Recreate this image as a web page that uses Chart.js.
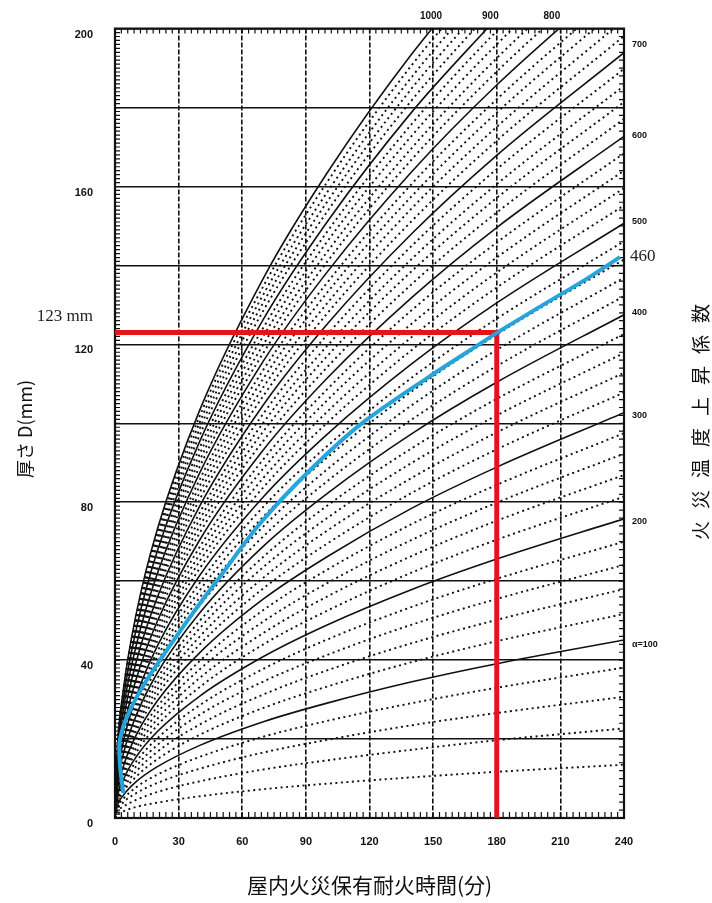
<!DOCTYPE html>
<html lang="ja">
<head>
<meta charset="utf-8">
<title>屋内火災保有耐火時間</title>
<script src="https://cdn.jsdelivr.net/npm/chart.js@4.4.1/dist/chart.umd.min.js"></script>
<style>
  html, body { margin: 0; padding: 0; background: #fff; }
  #wrap { width: 712px; height: 903px; }
</style>
</head>
<body>
<div id="wrap"><canvas id="chart" width="712" height="903"></canvas></div>
<script>
// 屋内火災保有耐火時間 - thickness D vs. time, one curve per fire temperature rise factor

// time samples (min) at which each curve was read
const timeMin = [0, 1, 4, 10, 20, 40, 70, 100, 140, 180, 240];

// fire temperature rise factor of each curve (solid every 100, dotted between)
const alphaValues = [20, 40, 60, 80, 100, 120, 140, 160, 180, 200,
    220, 240, 260, 280, 300, 320, 340, 360, 380, 400,
    420, 440, 460, 480, 500, 520, 540, 560, 580, 600,
    620, 640, 660, 680, 700, 720, 740, 760, 780, 800,
    820, 840, 860, 880, 900, 920, 940, 960, 980, 1000];

// thickness D (mm) read at each time sample, one row per curve
const depthByAlpha = [
    [0, 0.9, 1.7, 2.8, 3.9, 5.5, 7.3, 8.7, 10.3, 11.7, 13.5],
    [0, 1.5, 2.9, 4.6, 6.6, 9.3, 12.3, 14.6, 17.3, 19.7, 22.7],
    [0, 2.0, 4.0, 6.3, 8.9, 12.5, 16.6, 19.8, 23.5, 26.6, 30.7],
    [0, 2.5, 4.9, 7.8, 11.0, 15.5, 20.6, 24.6, 29.1, 33.0, 38.1],
    [0, 2.9, 5.8, 9.2, 13.0, 18.4, 24.4, 29.1, 34.5, 39.1, 45.1],
    [0, 3.3, 6.7, 10.5, 14.9, 21.1, 27.9, 33.3, 39.5, 44.8, 51.7],
    [0, 3.7, 7.5, 11.8, 16.8, 23.7, 31.3, 37.4, 44.3, 50.2, 58.0],
    [0, 4.1, 8.3, 13.1, 18.5, 26.2, 34.6, 41.3, 49.0, 55.5, 64.1],
    [0, 4.5, 9.0, 14.3, 20.2, 28.6, 37.8, 45.2, 53.5, 60.6, 70.0],
    [0, 4.9, 9.8, 15.5, 21.9, 30.9, 40.9, 48.9, 57.9, 65.6, 75.8],
    [0, 5.3, 10.5, 16.6, 23.5, 33.2, 44.0, 52.5, 62.2, 70.5, 81.4],
    [0, 5.6, 11.2, 17.7, 25.1, 35.5, 46.9, 56.1, 66.4, 75.3, 86.9],
    [0, 6.0, 11.9, 18.8, 26.7, 37.7, 49.8, 59.5, 70.5, 79.9, 92.3],
    [0, 6.3, 12.6, 19.9, 28.2, 39.8, 52.7, 62.9, 74.5, 84.4, 97.5],
    [0, 6.6, 13.2, 21.0, 29.7, 41.9, 55.5, 66.2, 78.5, 88.9, 102.7],
    [0, 7.0, 13.9, 22.0, 31.2, 44.0, 58.2, 69.5, 82.4, 93.4, 107.8],
    [0, 7.3, 14.6, 23.0, 32.6, 46.0, 60.9, 72.8, 86.2, 97.7, 112.8],
    [0, 7.6, 15.2, 24.0, 34.0, 48.1, 63.6, 76.0, 90.0, 102.0, 117.8],
    [0, 7.9, 15.8, 25.0, 35.4, 50.0, 66.2, 79.1, 93.7, 106.2, 122.6],
    [0, 8.2, 16.4, 26.0, 36.8, 52.0, 68.9, 82.2, 97.4, 110.4, 127.5],
    [0, 8.5, 17.1, 27.0, 38.2, 53.9, 71.4, 85.3, 101.0, 114.5, 132.2],
    [0, 8.8, 17.7, 27.9, 39.6, 55.9, 73.9, 88.3, 104.6, 118.6, 136.9],
    [0, 9.1, 18.3, 28.9, 40.9, 57.7, 76.4, 91.3, 108.1, 122.5, 141.5],
    [0, 9.4, 18.8, 29.8, 42.2, 59.6, 78.9, 94.2, 111.6, 126.5, 146.1],
    [0, 9.7, 19.4, 30.7, 43.6, 61.5, 81.4, 97.2, 115.1, 130.5, 150.7],
    [0, 10.0, 20.0, 31.7, 44.9, 63.3, 83.8, 100.1, 118.6, 134.4, 155.2],
    [0, 10.3, 20.6, 32.6, 46.1, 65.1, 86.2, 102.9, 121.9, 138.2, 159.6],
    [0, 10.6, 21.2, 33.5, 47.4, 66.9, 88.6, 105.8, 125.3, 142.0, 164.0],
    [0, 10.9, 21.7, 34.4, 48.7, 68.7, 90.9, 108.6, 128.7, 145.8, 168.4],
    [0, 11.1, 22.3, 35.2, 49.9, 70.5, 93.3, 111.4, 131.9, 149.6, 172.7],
    [0, 11.4, 22.8, 36.1, 51.2, 72.3, 95.6, 114.2, 135.3, 153.4, 177.1],
    [0, 11.7, 23.4, 37.0, 52.4, 74.0, 98.0, 117.0, 138.6, 157.1, 181.4],
    [0, 12.0, 23.9, 37.8, 53.6, 75.7, 100.2, 119.6, 141.7, 160.6, 185.5],
    [0, 12.2, 24.5, 38.7, 54.9, 77.4, 102.5, 122.4, 145.0, 164.4, 189.8],
    [0, 12.5, 25.0, 39.6, 56.0, 79.1, 104.7, 125.1, 148.1, 167.9, 193.9],
    [0, 12.8, 25.6, 40.4, 57.3, 80.8, 107.0, 127.8, 151.3, 171.6, 198.1],
    [0, 13.0, 26.1, 41.2, 58.4, 82.5, 109.2, 130.4, 154.5, 175.1, 202.2],
    [0, 13.3, 26.6, 42.1, 59.6, 84.2, 111.4, 133.1, 157.6, 178.7, 206.3],
    [0, 13.6, 27.1, 42.9, 60.8, 85.8, 113.6, 135.6, 160.7, 182.1, 210.3],
    [0, 13.8, 27.7, 43.7, 62.0, 87.5, 115.8, 138.3, 163.8, 185.7, 214.4],
    [0, 14.1, 28.2, 44.6, 63.1, 89.1, 117.9, 140.9, 166.9, 189.1, 218.4],
    [0, 14.3, 28.7, 45.3, 64.2, 90.7, 120.0, 143.4, 169.8, 192.5, 222.3],
    [0, 14.6, 29.2, 46.2, 65.4, 92.3, 122.2, 146.0, 172.9, 196.0, 226.3],
    [0, 14.8, 29.7, 47.0, 66.5, 93.9, 124.3, 148.5, 175.9, 199.4, 230.2],
    [0, 15.1, 30.2, 47.8, 67.7, 95.5, 126.4, 151.0, 178.9, 202.7, null],
    [0, 15.4, 30.7, 48.6, 68.8, 97.1, 128.6, 153.6, 181.9, 206.2, null],
    [0, 15.6, 31.2, 49.4, 69.9, 98.7, 130.7, 156.1, 184.9, 209.6, null],
    [0, 15.9, 31.7, 50.1, 71.0, 100.3, 132.7, 158.5, 187.8, 212.9, null],
    [0, 16.1, 32.2, 50.9, 72.2, 101.9, 134.8, 161.1, 190.8, 216.2, null],
    [0, 16.3, 32.7, 51.7, 73.2, 103.4, 136.8, 163.4, 193.6, 219.4, null]
];

// hand-drawn blue curve (alpha = 460), depth rises steadily along it
const blueTime = [3.9, 2.4, 2.0, 3.9, 7.9, 14.9, 21.2, 30.6, 40.1, 49.5, 68.4, 91.9, 115.5, 147, 167.4, 180.6, 201.8, 222.4, 238.1];
const blueDepth = [6.3, 13.0, 18.1, 23.1, 28.2, 34.9, 40.0, 47.3, 54.4, 61.1, 74.6, 88.1, 99.6, 111.4, 118.5, 123.1, 130.0, 136.6, 142.1];

// red reading lines: 180 min -> 123 mm
const markTime = [0, 180, 180];
const markDepth = [123, 123, 0];

// curve labels
const rightLabels = ['700', '600', '500', '400', '300', '200', 'α=100'];
const rightLabelDepth = [196, 173, 151, 128, 102, 75, 44];
const topLabels = ['1000', '900', '800'];
const topLabelTime = [149, 177, 206];

const INK = '#111';
const TICK_FONT = { family: 'Liberation Sans, Arial, sans-serif', size: 11, weight: 'bold' };
const CJK = '"Noto Sans CJK JP", "Noto Sans", sans-serif';

/**
 * Frame and small inner ticks, drawn under the curves
 */
const frameTicks = {
    id: 'frameTicks',
    beforeDatasetsDraw(chart) {
        const { ctx, chartArea: a, scales: { x, y } } = chart;
        ctx.save();
        ctx.strokeStyle = INK;
        ctx.lineWidth = 1.2;
        ctx.beginPath();
        for (let d = 0; d <= 200; d += 1) {
            const py = y.getPixelForValue(d);
            ctx.moveTo(a.left, py);
            ctx.lineTo(a.left + 5, py);
        }
        for (let d = 0; d <= 200; d += 2) {
            const py = y.getPixelForValue(d);
            ctx.moveTo(a.right, py);
            ctx.lineTo(a.right - 5, py);
        }
        for (let t = 0; t <= 240; t += 3) {
            const px = x.getPixelForValue(t);
            ctx.moveTo(px, a.bottom);
            ctx.lineTo(px, a.bottom - 6);
            ctx.moveTo(px, a.top);
            ctx.lineTo(px, a.top + 5);
        }
        ctx.stroke();
        ctx.lineWidth = 2.2;
        ctx.strokeRect(a.left, a.top, a.right - a.left, a.bottom - a.top);
        ctx.restore();
    }
};

/**
 * Curve labels, reading labels and axis titles
 */
const textLayer = {
    id: 'textLayer',
    afterDraw(chart) {
        const { ctx, chartArea: a, scales: { x, y } } = chart;
        ctx.save();
        ctx.fillStyle = INK;

        // alpha labels
        ctx.font = 'bold 9px Liberation Sans, Arial, sans-serif';
        ctx.textBaseline = 'middle';
        ctx.textAlign = 'left';
        rightLabels.forEach((txt, i) => {
            ctx.fillText(txt, a.right + 8, y.getPixelForValue(rightLabelDepth[i]));
        });
        ctx.font = 'bold 10px Liberation Sans, Arial, sans-serif';
        ctx.textAlign = 'center';
        topLabels.forEach((txt, i) => {
            ctx.fillText(txt, x.getPixelForValue(topLabelTime[i]), a.top - 12);
        });

        // reading labels
        ctx.font = '17px "Liberation Serif", "DejaVu Serif", serif';
        ctx.fillStyle = '#222';
        ctx.textBaseline = 'alphabetic';
        ctx.textAlign = 'right';
        ctx.fillText('123 mm', a.left - 22, y.getPixelForValue(markDepth[0]) - 12);
        ctx.textAlign = 'left';
        ctx.textBaseline = 'middle';
        ctx.fillText('460', x.getPixelForValue(240) + 6, y.getPixelForValue(blueDepth[blueDepth.length - 1]) - 1);

        // axis titles
        ctx.fillStyle = '#111';
        ctx.font = '21px ' + CJK;
        ctx.textAlign = 'center';
        ctx.textBaseline = 'middle';
        ctx.fillText('屋内火災保有耐火時間(分)', (a.left + a.right) / 2, 885);

        ctx.save();
        ctx.translate(25, 429);
        ctx.rotate(-Math.PI / 2);
        ctx.font = '18px ' + CJK;
        ctx.fillText('厚さ D(mm)', 0, 0);
        ctx.restore();

        ctx.save();
        ctx.translate(701, 422);
        ctx.rotate(-Math.PI / 2);
        ctx.font = '19px ' + CJK;
        const title = Array.from('火災温度上昇係数');
        const step = 31;
        title.forEach((ch, i) => {
            ctx.fillText(ch, (i - (title.length - 1) / 2) * step, 0);
        });
        ctx.restore();

        ctx.restore();
    }
};

const datasets = [];

datasets.push({
    data: markTime.map((t, i) => ({ x: t, y: markDepth[i] })),
    borderColor: '#e5141b',
    borderWidth: 5,
    tension: 0,
    pointRadius: 0,
    order: 1
});

// blue curve turns back near the origin, so interpolate it along the depth axis
datasets.push({
    data: blueTime.map((t, i) => ({ x: t, y: blueDepth[i] })),
    indexAxis: 'y',
    borderColor: '#25a5db',
    borderWidth: 4,
    cubicInterpolationMode: 'monotone',
    pointRadius: 0,
    order: 0
});

alphaValues.forEach((alpha, i) => {
    const solid = alpha % 100 === 0;
    datasets.push({
        data: timeMin
            .map((t, j) => ({ x: t, y: depthByAlpha[i][j] }))
            .filter(p => p.y !== null),
        borderColor: INK,
        borderWidth: solid ? 1.6 : 1.9,
        borderDash: solid ? [] : [2, 3.5],
        cubicInterpolationMode: 'monotone',
        pointRadius: 0,
        order: 2
    });
});

new Chart(document.getElementById('chart'), {
    type: 'line',
    data: { datasets: datasets },
    options: {
        responsive: false,
        animation: false,
        events: [],
        layout: { padding: { left: 0, right: 88, top: 28, bottom: 0 } },
        plugins: {
            legend: { display: false },
            tooltip: { enabled: false }
        },
        scales: {
            x: {
                type: 'linear',
                min: 0,
                max: 240,
                afterFit(scale) { scale.height = 85; },
                ticks: { stepSize: 30, padding: 17, color: INK, font: TICK_FONT, maxRotation: 0 },
                grid: { color: INK, lineWidth: 1.6, drawTicks: false },
                border: { display: false, dash: [5, 2] }
            },
            y: {
                type: 'linear',
                min: 0,
                max: 200,
                afterFit(scale) { scale.width = 115; },
                ticks: {
                    stepSize: 20,
                    padding: 22,
                    labelOffset: 6,
                    color: INK,
                    font: TICK_FONT,
                    callback: v => (v % 40 === 0 ? v : '')
                },
                grid: { color: INK, lineWidth: 1.6, drawTicks: false },
                border: { display: false }
            }
        }
    },
    plugins: [frameTicks, textLayer]
});
</script>
</body>
</html>
